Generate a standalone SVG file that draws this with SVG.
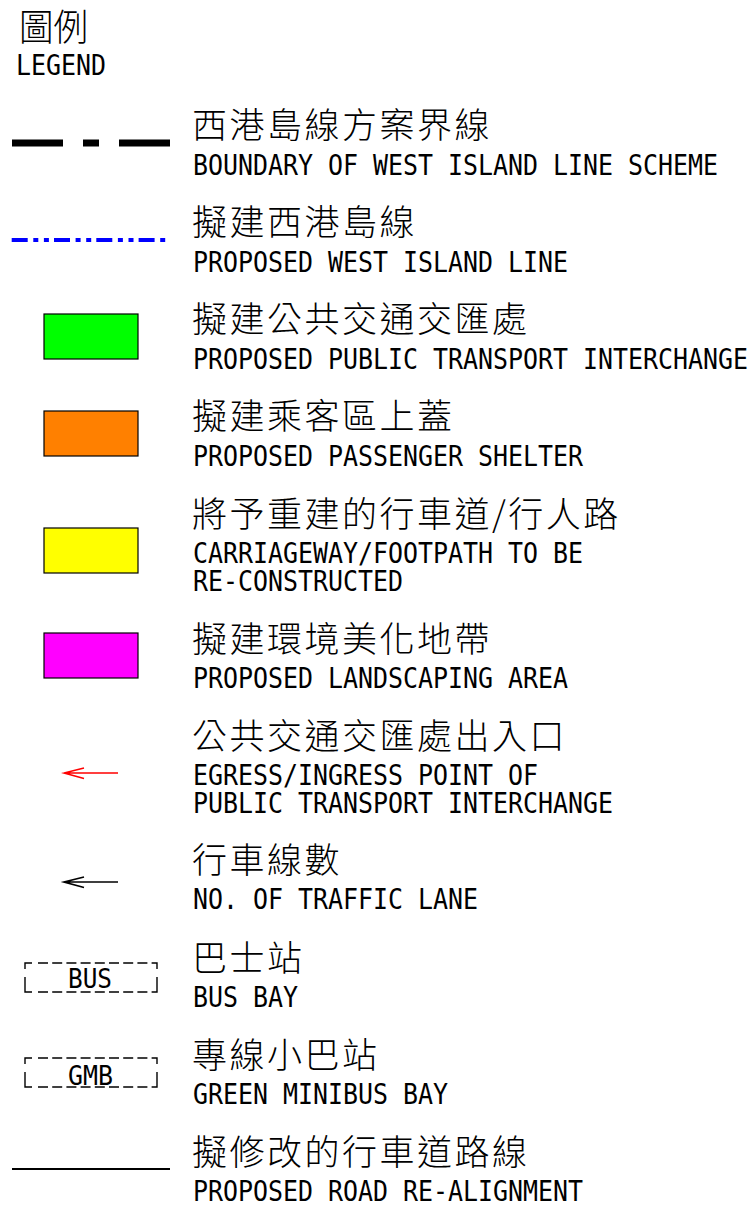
<svg xmlns="http://www.w3.org/2000/svg" width="754" height="1206" viewBox="0 0 754 1206">
<style>
.cjk{font-family:"Noto Sans CJK TC","Noto Sans CJK SC",sans-serif;font-size:35px;font-weight:300;letter-spacing:2.5px;fill:#000}
.en{font-family:"DejaVu Sans Mono",monospace;font-size:29px;fill:#000}
.box{stroke:#000;stroke-width:1.2}
.db{fill:none;stroke:#000;stroke-width:1.4}
</style>
<rect width="754" height="1206" fill="#fff"/>
<g id="title">
<text x="19" y="41" style="font-family:'Noto Sans CJK TC','Noto Sans CJK SC',sans-serif;font-size:37px;font-weight:300;fill:#000" textLength="69" lengthAdjust="spacingAndGlyphs">圖例</text>
<text class="en" x="16" y="75" textLength="90" lengthAdjust="spacingAndGlyphs">LEGEND</text>
</g>
<g id="boundary">
<path d="M12 143H63M83 143H99M119 143H170" stroke="#000" stroke-width="7"/>
<text class="cjk" x="192" y="138">西港島線方案界線</text>
<text class="en" x="193" y="175" textLength="525" lengthAdjust="spacingAndGlyphs">BOUNDARY OF WEST ISLAND LINE SCHEME</text>
</g>
<g id="wil">
<path d="M11.7 240H166" stroke="#0000ff" stroke-width="4" stroke-dasharray="16 5.6 5 5.6 5 5.1"/>
<text class="cjk" x="192" y="235">擬建西港島線</text>
<text class="en" x="193" y="272" textLength="375" lengthAdjust="spacingAndGlyphs">PROPOSED WEST ISLAND LINE</text>
</g>
<g id="pti">
<rect class="box" x="44" y="314" width="94" height="45" fill="#00ff00"/>
<text class="cjk" x="192" y="332">擬建公共交通交匯處</text>
<text class="en" x="193" y="369" textLength="555" lengthAdjust="spacingAndGlyphs">PROPOSED PUBLIC TRANSPORT INTERCHANGE</text>
</g>
<g id="shelter">
<rect class="box" x="44" y="411" width="94" height="45" fill="#ff8000"/>
<text class="cjk" x="192" y="429">擬建乘客區上蓋</text>
<text class="en" x="193" y="466" textLength="390" lengthAdjust="spacingAndGlyphs">PROPOSED PASSENGER SHELTER</text>
</g>
<g id="reconstruct">
<rect class="box" x="44" y="528" width="94" height="45" fill="#ffff00"/>
<text class="cjk" x="192" y="527">將予重建的行車道/行人路</text>
<text class="en" x="193" y="563" textLength="390" lengthAdjust="spacingAndGlyphs">CARRIAGEWAY/FOOTPATH TO BE</text>
<text class="en" x="193" y="591" textLength="210" lengthAdjust="spacingAndGlyphs">RE-CONSTRUCTED</text>
</g>
<g id="landscape">
<rect class="box" x="44" y="633" width="94" height="45" fill="#ff00ff"/>
<text class="cjk" x="192" y="652">擬建環境美化地帶</text>
<text class="en" x="193" y="688" textLength="375" lengthAdjust="spacingAndGlyphs">PROPOSED LANDSCAPING AREA</text>
</g>
<g id="egress">
<path d="M118 773H64M84 768L64 773L84 778.5" fill="none" stroke="#ff0000" stroke-width="1.5"/>
<text class="cjk" x="192" y="749">公共交通交匯處出入口</text>
<text class="en" x="193" y="785" textLength="345" lengthAdjust="spacingAndGlyphs">EGRESS/INGRESS POINT OF</text>
<text class="en" x="193" y="813" textLength="420" lengthAdjust="spacingAndGlyphs">PUBLIC TRANSPORT INTERCHANGE</text>
</g>
<g id="lanes">
<path d="M118 882H64M84 877L64 882L84 887.5" fill="none" stroke="#000" stroke-width="1.7"/>
<text class="cjk" x="192" y="873">行車線數</text>
<text class="en" x="193" y="909" textLength="285" lengthAdjust="spacingAndGlyphs">NO. OF TRAFFIC LANE</text>
</g>
<g id="busbay">
<path class="db" d="M25 969V963H32M38 963H48M52.2 963H62.2M66.4 963H76.4M80.6 963H90.6M94.8 963H104.8M109 963H119M123.2 963H133.2M137.4 963H147.4M151.6 963H157V969M25 977V992H32M38 992H48M52.2 992H62.2M66.4 992H76.4M80.6 992H90.6M94.8 992H104.8M109 992H119M123.2 992H133.2M137.4 992H147.4M151.6 992H157V977"/>
<text class="en" x="68" y="988" style="font-size:26px" textLength="44" lengthAdjust="spacingAndGlyphs">BUS</text>
<text class="cjk" x="192" y="971">巴士站</text>
<text class="en" x="193" y="1007" textLength="105" lengthAdjust="spacingAndGlyphs">BUS BAY</text>
</g>
<g id="gmbbay">
<path class="db" d="M25 1064V1058H32M38 1058H48M52.2 1058H62.2M66.4 1058H76.4M80.6 1058H90.6M94.8 1058H104.8M109 1058H119M123.2 1058H133.2M137.4 1058H147.4M151.6 1058H157V1064M25 1072V1087H32M38 1087H48M52.2 1087H62.2M66.4 1087H76.4M80.6 1087H90.6M94.8 1087H104.8M109 1087H119M123.2 1087H133.2M137.4 1087H147.4M151.6 1087H157V1072"/>
<text class="en" x="68" y="1085" style="font-size:26px" textLength="45" lengthAdjust="spacingAndGlyphs">GMB</text>
<text class="cjk" x="192" y="1068">專線小巴站</text>
<text class="en" x="193" y="1104" textLength="255" lengthAdjust="spacingAndGlyphs">GREEN MINIBUS BAY</text>
</g>
<g id="realign">
<path d="M12 1169H170" stroke="#000" stroke-width="2"/>
<text class="cjk" x="192" y="1165">擬修改的行車道路線</text>
<text class="en" x="193" y="1201" textLength="390" lengthAdjust="spacingAndGlyphs">PROPOSED ROAD RE-ALIGNMENT</text>
</g>
</svg>
